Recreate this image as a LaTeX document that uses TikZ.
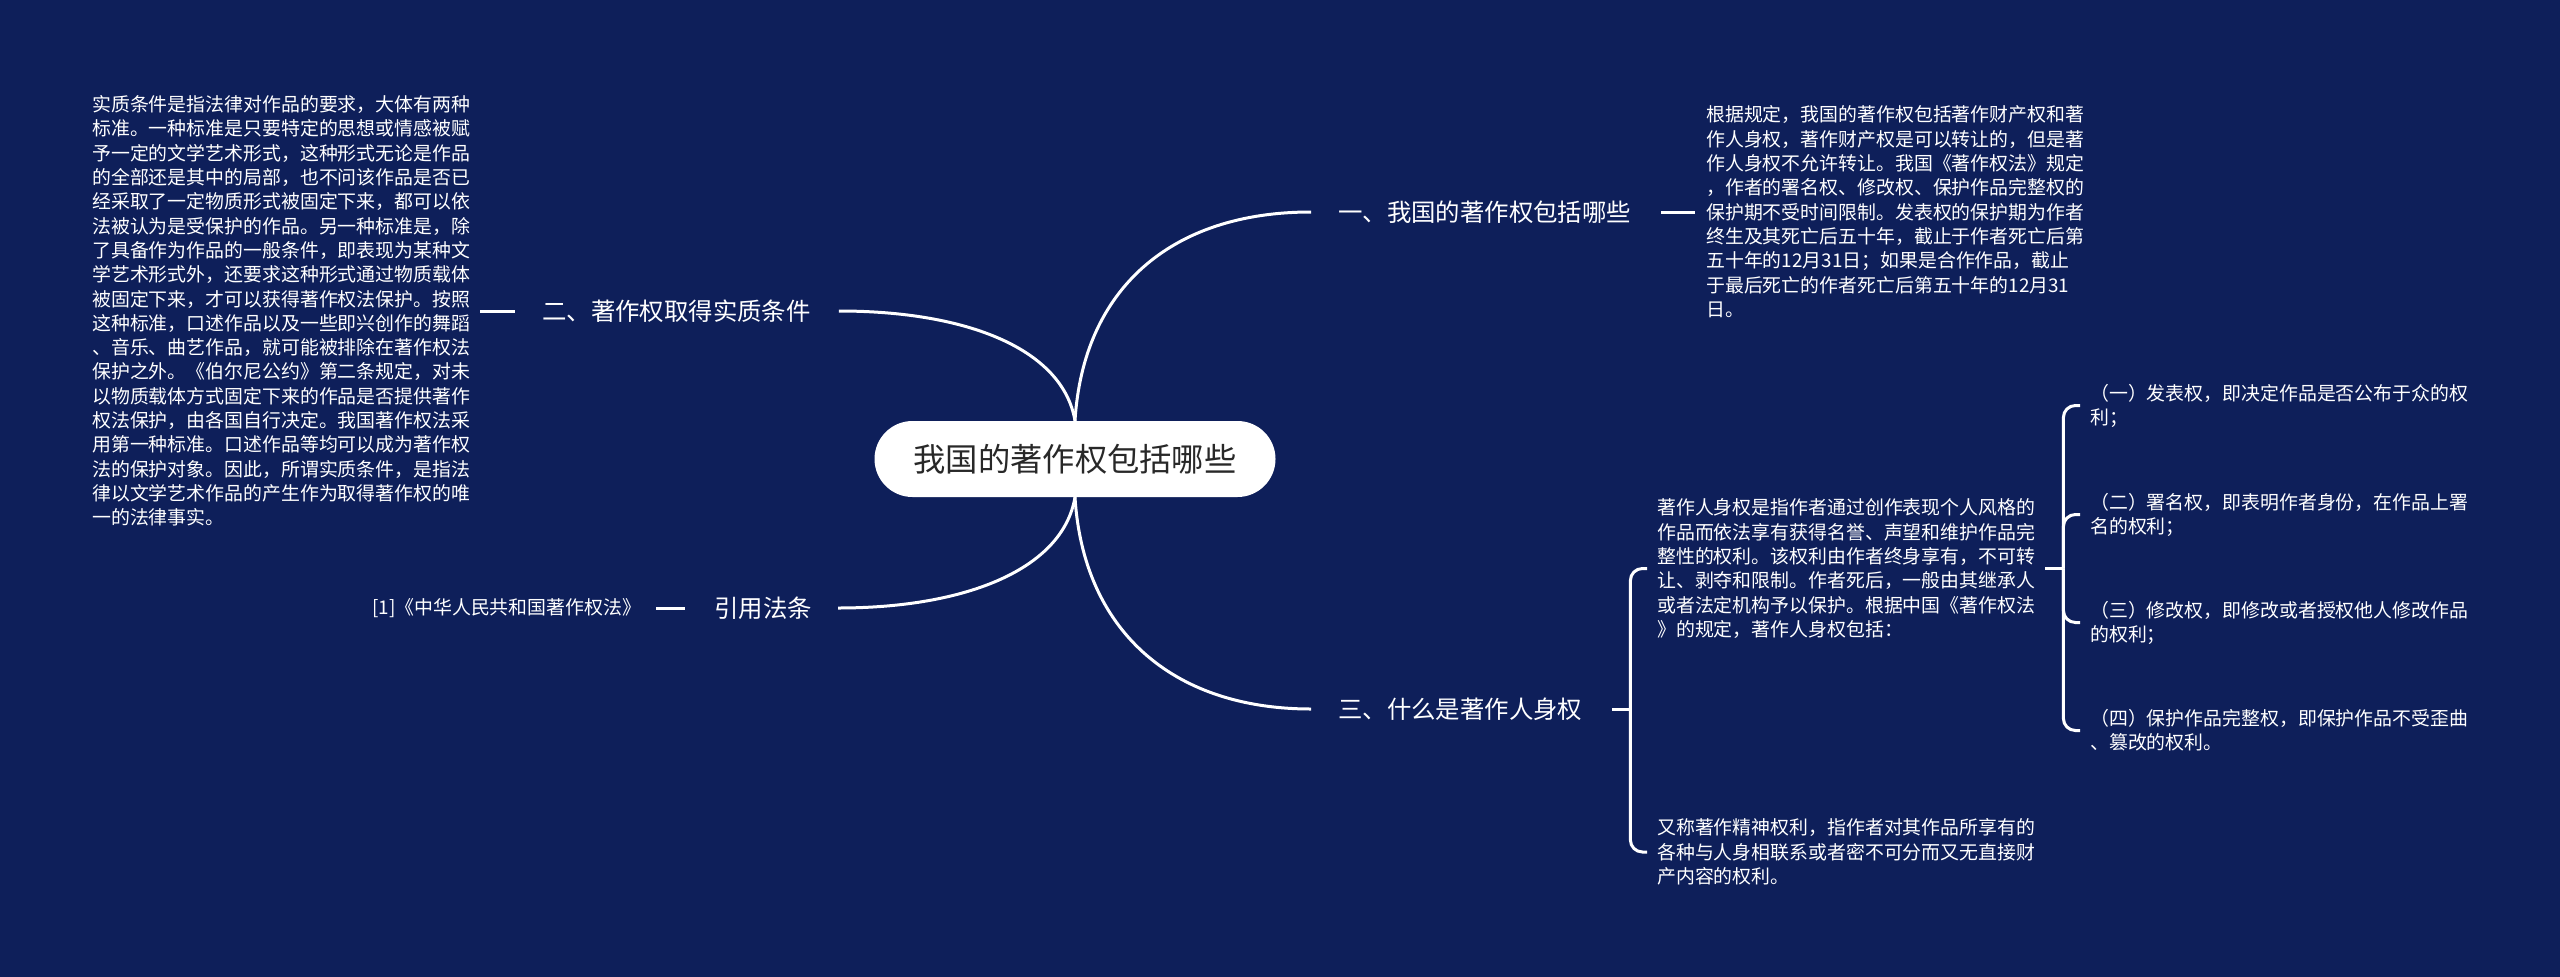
\documentclass[tikz,border=0pt]{standalone}
\usepackage{fontspec}
\setmainfont{Noto Sans CJK SC}
\definecolor{bgnavy}{RGB}{14,31,90}
\definecolor{roottext}{RGB}{40,40,40}
\newcommand\vs{\rule[-0.14em]{0pt}{1.04em}}
\begin{document}
\begin{tikzpicture}[x=1pt,y=-1pt,
  rootbox/.style={fill=white, rounded corners=38pt, minimum width=401pt, minimum height=76pt, inner sep=0pt, text=roottext, font=\fontsize{32.3}{36}\selectfont},
  branch/.style={anchor=west, inner sep=0pt, text=white, font=\fontsize{24.4}{28}\selectfont},
  detail/.style={anchor=west, inner sep=0pt, align=left, text=white, font=\fontsize{18.9}{24.3}\selectfont},
  link/.style={draw=white, line width=3pt},
  bracketline/.style={link, rounded corners=12pt}]
\useasboundingbox (0,0) rectangle (2560,977);
\fill[bgnavy] (0,0) rectangle (2560,977);

% root
\node[rootbox] (root) at (1075,459) {\vs 我国的著作权包括哪些};

% branches
\node[branch] (b1) at (1338,212) {\vs 一、我国的著作权包括哪些};
\node[branch] (b2) at (542,311) {\vs 二、著作权取得实质条件};
\node[branch] (b3) at (1338,709) {\vs 三、什么是著作人身权};
\node[branch] (b4) at (714,608) {\vs 引用法条};

% details
\node[detail] (d1) at (1706,212) {\vs 根据规定，我国的著作权包括著作财产权和著\\
作人身权，著作财产权是可以转让的，但是著\\
作人身权不允许转让。我国《著作权法》规定\\
，作者的署名权、修改权、保护作品完整权的\\
保护期不受时间限制。发表权的保护期为作者\\
终生及其死亡后五十年，截止于作者死亡后第\\
五十年的12月31日；如果是合作作品，截止\\
于最后死亡的作者死亡后第五十年的12月31\\
\vs 日。};

\node[detail] (d2) at (92,311) {\vs 实质条件是指法律对作品的要求，大体有两种\\
标准。一种标准是只要特定的思想或情感被赋\\
予一定的文学艺术形式，这种形式无论是作品\\
的全部还是其中的局部，也不问该作品是否已\\
经采取了一定物质形式被固定下来，都可以依\\
法被认为是受保护的作品。另一种标准是，除\\
了具备作为作品的一般条件，即表现为某种文\\
学艺术形式外，还要求这种形式通过物质载体\\
被固定下来，才可以获得著作权法保护。按照\\
这种标准，口述作品以及一些即兴创作的舞蹈\\
、音乐、曲艺作品，就可能被排除在著作权法\\
保护之外。《伯尔尼公约》第二条规定，对未\\
以物质载体方式固定下来的作品是否提供著作\\
权法保护，由各国自行决定。我国著作权法采\\
用第一种标准。口述作品等均可以成为著作权\\
法的保护对象。因此，所谓实质条件，是指法\\
律以文学艺术作品的产生作为取得著作权的唯\\
\vs 一的法律事实。};

\node[detail] (d4) at (372,608) {\vs [1]《中华人民共和国著作权法》};

\node[detail] (c1) at (1657,568.5) {\vs 著作人身权是指作者通过创作表现个人风格的\\
作品而依法享有获得名誉、声望和维护作品完\\
整性的权利。该权利由作者终身享有，不可转\\
让、剥夺和限制。作者死后，一般由其继承人\\
或者法定机构予以保护。根据中国《著作权法\\
\vs 》的规定，著作人身权包括：};

\node[detail] (c2) at (1657,852) {\vs 又称著作精神权利，指作者对其作品所享有的\\
各种与人身相联系或者密不可分而又无直接财\\
\vs 产内容的权利。};

\node[detail] (g1) at (2090,405.5) {\vs （一）发表权，即决定作品是否公布于众的权\\\vs 利；};
\node[detail] (g2) at (2090,514.5) {\vs （二）署名权，即表明作者身份，在作品上署\\\vs 名的权利；};
\node[detail] (g3) at (2090,622.5) {\vs （三）修改权，即修改或者授权他人修改作品\\\vs 的权利；};
\node[detail] (g4) at (2090,730.5) {\vs （四）保护作品完整权，即保护作品不受歪曲\\\vs 、篡改的权利。};

% curves from root
\draw[link] (root.north) .. controls +(8,-131) and +(-141,0) .. ([xshift=-27pt]b1.west);
\draw[link] (root.north) .. controls +(-12,-71) and +(130,0) .. ([xshift=28pt]b2.east);
\draw[link] (root.south) .. controls +(-12,71) and +(130,0) .. ([xshift=26pt]b4.east);
\draw[link] (root.south) .. controls +(8,131) and +(-141,0) .. ([xshift=-27pt]b3.west);

% stubs
\draw[link] ([xshift=30pt]b1.east) -- ([xshift=-11pt]d1.west);
\draw[link] ([xshift=10pt]d2.east) -- ([xshift=-27pt]b2.west);
\draw[link] ([xshift=15pt]d4.east) -- ([xshift=-29pt]b4.west);

% bracket of branch 3
\draw[link] ([xshift=30pt]b3.east) -- ([xshift=48pt]b3.east);
\draw[bracketline] ([xshift=48pt]b3.east) |- ([xshift=-10pt]c1.west);
\draw[bracketline] ([xshift=48pt]b3.east) |- ([xshift=-10pt]c2.west);

% bracket of c1
\draw[link] ([xshift=10pt]c1.east) -- ([xshift=28pt]c1.east);
\draw[bracketline] ([xshift=28pt]c1.east) |- ([xshift=-10pt]g1.west);
\draw[bracketline] ([xshift=28pt]c1.east) |- ([xshift=-10pt]g2.west);
\draw[bracketline] ([xshift=28pt]c1.east) |- ([xshift=-10pt]g3.west);
\draw[bracketline] ([xshift=28pt]c1.east) |- ([xshift=-10pt]g4.west);
\end{tikzpicture}
\end{document}
